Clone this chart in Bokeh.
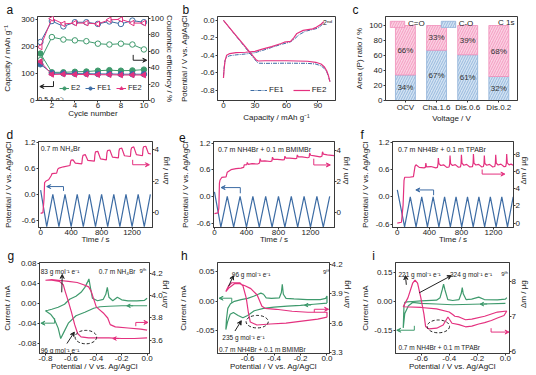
import math
from bokeh.plotting import figure
from bokeh.models import (Range1d, LinearAxis, FixedTicker, PrintfTickFormatter, Label,
                          Arrow, VeeHead, Legend, LegendItem)
from bokeh.layouts import column, row
from bokeh.core.properties import value
from bokeh.embed import file_html
from bokeh.resources import INLINE

FONT = "Liberation Sans"
PINK = "#e4317f"
BLUE = "#3d6ca4"
GREEN = "#3f9a6d"
INK = "#222222"
AXC = "#3a3a3a"

# ---------------- data: panel a ----------------
a_cycle = [1, 2, 3, 4, 5, 6, 7, 8, 9, 10]
a_cap_e2 = [175, 105, 105, 107, 108, 111, 113, 111, 112, 115]
a_cap_fe1 = [135, 102, 101, 100, 100, 99, 99, 98, 98, 98]
a_cap_fe2 = [145, 97, 98, 97, 97, 96, 96, 95, 95, 95]
a_ce_e2 = [49, 77, 74, 73, 72, 69, 68, 69, 68, 62]
a_ce_fe1 = [71, 96.5, 90, 95, 95, 93, 96, 93, 97, 95]
a_ce_fe2 = [65, 99.5, 93, 94, 94, 93, 98, 98.5, 94, 94]

# ---------------- data: panel b ----------------
b_fe1_chg_cap = [0, 0.5, 1.5, 3, 6, 12, 21, 30, 37, 46, 55, 60, 64, 68, 72, 78, 85, 90, 94, 96]
b_fe1_chg_v = [-0.64, -0.55, -0.46, -0.42, -0.405, -0.395, -0.385, -0.37, -0.345, -0.31,
               -0.275, -0.26, -0.245, -0.21, -0.165, -0.125, -0.105, -0.09, -0.05, -0.02]
b_fe1_dis_cap = [0, 10, 20, 30, 33, 40, 60, 80, 88, 93, 96, 98.5, 100, 101.5]
b_fe1_dis_v = [0.0, -0.15, -0.30, -0.45, -0.49, -0.492, -0.49, -0.492, -0.50, -0.52, -0.55, -0.59, -0.64, -0.70]
b_fe2_chg_cap = [0, 0.6, 1.5, 3, 6, 12, 21, 30, 37, 46, 55, 58, 64, 67, 70, 76, 85, 88.5, 93, 95.5]
b_fe2_chg_v = [-0.66, -0.56, -0.46, -0.40, -0.38, -0.37, -0.365, -0.355, -0.33, -0.30,
               -0.265, -0.25, -0.24, -0.20, -0.15, -0.115, -0.098, -0.08, -0.045, -0.015]
b_fe2_dis_cap = [0, 10, 20, 31, 33, 40, 60, 80, 88, 93, 96, 98.5, 100, 101.5]
b_fe2_dis_v = [0.0, -0.145, -0.29, -0.45, -0.465, -0.462, -0.462, -0.468, -0.48, -0.50, -0.53, -0.58, -0.63, -0.70]

# ---------------- data: panel c ----------------
c_x = [1, 2, 3, 4]
c_cats = ["OCV", "Cha.1.6", "Dis.0.6", "Dis.0.2"]
c_co = [34, 67, 61, 32]     # C-O
c_cdo = [66, 33, 39, 68]    # C=O

# ---------------- data: panels d, e, f ----------------
d_tri_t = [0, 80, 160, 240, 320, 400, 480, 560, 640, 720, 800, 880, 960, 1040, 1120, 1200, 1280, 1360, 1440]
d_tri_v = [0.10, -0.74, 0.0, -0.74, 0.0, -0.74, 0.0, -0.74, 0.0, -0.74, 0.0, -0.74, 0.0, -0.74, 0.0, -0.74, 0.0, -0.74, 0.0]
d_m_t = [0, 30, 45, 52, 70, 105, 140, 150, 210, 225, 240, 300, 385,
         392, 400, 425, 455, 540,
         548, 556, 585, 620, 705,
         712, 720, 750, 786, 862,
         870, 878, 908, 943, 1020,
         1028, 1036, 1065, 1100, 1178,
         1186, 1194, 1222, 1257, 1336,
         1344, 1352, 1380, 1414, 1448]
d_m = [-0.05, 0.0, 0.9, 1.9, 2.0, 2.08, 2.35, 2.47, 2.5, 2.75, 2.82, 2.9, 2.98,
       3.2, 3.32, 3.34, 3.13, 3.09,
       3.45, 3.62, 3.67, 3.30, 3.26,
       3.65, 3.84, 3.88, 3.40, 3.34,
       3.78, 3.92, 3.96, 3.51, 3.46,
       3.90, 4.04, 4.08, 3.60, 3.55,
       3.98, 4.10, 4.16, 3.67, 3.60,
       4.05, 4.17, 4.20, 3.75, 3.71]

e_tri_t = [0, 80, 160, 240, 320, 400, 480, 560, 640, 720, 800, 880, 960, 1040, 1120, 1200, 1280, 1360, 1440]
e_tri_v = [0.10, -0.69, 0.0, -0.69, 0.0, -0.69, 0.0, -0.69, 0.0, -0.69, 0.0, -0.69, 0.0, -0.69, 0.0, -0.69, 0.0, -0.69, 0.0]
e_m_t = [0, 45, 55, 62, 70, 91, 145, 160, 207, 269, 331, 365, 372,
         404, 410, 422, 470, 540,
         563, 570, 582, 630, 700,
         718, 725, 737, 785, 855,
         873, 880, 892, 940, 1010,
         1028, 1035, 1047, 1095, 1165,
         1183, 1190, 1202, 1250, 1320,
         1343, 1350, 1362, 1410, 1495]
e_m = [-0.05, 0.0, 0.3, 1.9, 2.1, 2.26, 2.3, 2.6, 2.76, 2.82, 2.86, 2.9, 3.06,
       3.08, 3.22, 3.10, 3.14, 3.12,
       3.18, 3.46, 3.30, 3.32, 3.28,
       3.32, 3.56, 3.42, 3.42, 3.38,
       3.40, 3.62, 3.50, 3.50, 3.46,
       3.48, 3.70, 3.58, 3.58, 3.52,
       3.55, 3.82, 3.68, 3.64, 3.58,
       3.62, 3.90, 3.75, 3.70, 3.66]

f_tri_t = [0, 91, 162, 234, 305, 376, 447, 519, 590, 662, 733, 804, 876, 947, 1018, 1090, 1161, 1233, 1304, 1375, 1446]
f_tri_v = [0.15, -0.66, 0.0, -0.66, 0.0, -0.66, 0.0, -0.66, 0.0, -0.66, 0.0, -0.66, 0.0, -0.66, 0.0, -0.66, 0.0, -0.66, 0.0, -0.66, 0.0]
f_m_t = [0, 52, 72, 84, 92, 153, 201, 221, 233, 274, 334, 350, 356, 364, 420, 480,
         500, 508, 512, 519, 542, 577, 617,
         646, 654, 658, 665, 688, 723, 763,
         788, 796, 800, 807, 830, 865, 905,
         938, 946, 950, 957, 980, 1015, 1055,
         1074, 1082, 1086, 1093, 1116, 1151, 1191,
         1216, 1224, 1228, 1235, 1258, 1293, 1333,
         1353, 1361, 1365, 1372, 1395, 1420, 1445]
f_m = [0.0, 0.1, 2.1, 5.0, 5.35, 5.35, 5.43, 6.62, 6.8, 6.5, 6.44, 6.5, 7.0, 6.55, 6.6, 6.45,
       6.5, 6.9, 7.6, 6.95, 6.72, 6.8, 6.5,
       6.55, 6.9, 7.89, 6.95, 6.72, 6.82, 6.52,
       6.55, 6.95, 7.96, 7.0, 6.75, 6.85, 6.55,
       6.6, 7.0, 8.07, 7.0, 6.78, 6.85, 6.55,
       6.6, 6.95, 7.89, 6.95, 6.75, 6.85, 6.55,
       6.6, 7.0, 7.96, 7.0, 6.78, 6.88, 6.58,
       6.62, 7.0, 8.07, 7.02, 6.8, 6.88, 6.75]

# ---------------- data: panels g, h, i ----------------
g_cv_v = [0.0, -0.1, -0.2, -0.3, -0.37, -0.42, -0.49, -0.56, -0.62, -0.655, -0.68, -0.70, -0.73, -0.76, -0.80,
          -0.78, -0.75, -0.70, -0.65, -0.61, -0.56, -0.52, -0.49, -0.47, -0.458, -0.445, -0.43, -0.39, -0.345,
          -0.325, -0.313, -0.30, -0.27, -0.234, -0.20, -0.15, -0.08, -0.02, 0.0]
g_cv_i = [-0.005, -0.005, -0.005, -0.006, -0.007, -0.010, -0.018, -0.025, -0.040, -0.058, -0.071, -0.050, -0.032,
          -0.022, -0.015, -0.014, -0.012, -0.008, -0.002, 0.008, 0.014, 0.022, 0.032, 0.042, 0.049, 0.030, 0.010,
          0.005, 0.008, 0.018, 0.032, 0.012, 0.005, 0.012, 0.007, 0.005, 0.005, 0.006, 0.010]
g_m_v = [0.0, -0.1, -0.2, -0.3, -0.4, -0.46, -0.52, -0.547, -0.57, -0.595, -0.62, -0.645, -0.66, -0.69, -0.75,
         -0.80, -0.75, -0.70, -0.62, -0.55, -0.50, -0.46, -0.44, -0.42, -0.40, -0.38, -0.34, -0.31, -0.29, -0.25,
         -0.15, -0.05, 0.0]
g_m = [3.62, 3.615, 3.615, 3.62, 3.62, 3.62, 3.63, 3.66, 3.74, 3.85, 3.95, 4.04, 4.10, 4.13, 4.14, 4.14, 4.145,
       4.14, 4.13, 4.12, 4.10, 4.08, 4.04, 3.97, 3.90, 3.88, 3.84, 3.80, 3.74, 3.72, 3.71, 3.70, 3.69]

h_cv_v = [0.0, -0.1, -0.2, -0.3, -0.4, -0.48, -0.55, -0.60, -0.636, -0.672, -0.708, -0.732, -0.752, -0.765,
          -0.76, -0.75, -0.73, -0.70, -0.65, -0.60, -0.55, -0.52, -0.50, -0.48, -0.46, -0.42, -0.36, -0.345,
          -0.338, -0.33, -0.31, -0.25, -0.15, -0.05, -0.01, 0.0, 0.0]
h_cv_i = [-0.003, -0.005, -0.007, -0.008, -0.010, -0.012, -0.016, -0.024, -0.028, -0.024, -0.019, -0.022,
          -0.035, -0.048, -0.030, -0.012, -0.004, 0.000, 0.003, 0.005, 0.009, 0.012, 0.014, 0.012, 0.006, 0.005,
          0.006, 0.015, 0.029, 0.012, 0.005, 0.004, 0.003, 0.003, 0.005, 0.009, -0.003]
h_m_v = [0.0, -0.07, -0.19, -0.31, -0.43, -0.53, -0.58, -0.595, -0.61, -0.636, -0.66, -0.72, -0.744, -0.765,
         -0.74, -0.70, -0.66, -0.62, -0.576, -0.528, -0.492, -0.468, -0.384, -0.264, -0.144, -0.05, 0.0, 0.0]
h_m = [3.66, 3.64, 3.62, 3.60, 3.59, 3.58, 3.61, 3.71, 3.85, 3.98, 4.01, 4.01, 3.98, 3.92, 3.96, 4.00, 4.00,
       3.98, 3.95, 3.885, 3.77, 3.75, 3.74, 3.72, 3.71, 3.71, 3.71, 3.66]

i_cv_v = [0.0, -0.16, -0.375, -0.49, -0.60, -0.66, -0.69, -0.716, -0.727, -0.722, -0.716, -0.70, -0.66, -0.60,
          -0.49, -0.465, -0.45, -0.44, -0.43, -0.41, -0.375, -0.33, -0.315, -0.307, -0.30, -0.28, -0.24, -0.19,
          -0.15, -0.057, 0.0, 0.01]
i_cv_i = [-0.010, -0.013, -0.017, -0.013, -0.010, -0.005, -0.022, -0.063, -0.138, -0.030, -0.005, -0.002, 0.000,
          0.003, 0.007, 0.020, 0.060, 0.090, 0.060, 0.010, 0.005, 0.010, 0.040, 0.073, 0.040, 0.010, 0.012, 0.023,
          0.010, 0.008, 0.012, 0.020]
i_m_v = [0.01, -0.057, -0.148, -0.239, -0.284, -0.33, -0.36, -0.375, -0.40, -0.49, -0.60, -0.727, -0.693, -0.66,
         -0.643, -0.625, -0.602, -0.58, -0.568, -0.545, -0.489, -0.443, -0.409, -0.38, -0.33, -0.284, -0.239, -0.19,
         -0.148, -0.10, -0.057, -0.01, 0.01]
i_m = [7.15, 7.12, 7.00, 6.92, 6.90, 6.98, 7.00, 7.05, 7.12, 7.21, 7.25, 7.27, 7.53, 7.94, 8.03, 7.94, 7.53, 7.07,
       6.71, 6.64, 6.66, 6.75, 6.98, 6.80, 6.76, 6.70, 6.72, 6.78, 6.82, 6.88, 6.95, 7.02, 7.15]

SUP_M1 = "\u207b\u00b9"
T_POT = "Potential / V vs. Ag/AgCl"
T_DM = "\u0394m / \u00b5g"


# ---------------- helpers ----------------
def style_axis(ax, ticks, label, s, fmt=None, overrides=None, lstand=1):
    ax.axis_line_color = AXC
    ax.major_tick_line_color = AXC
    ax.minor_tick_line_color = None
    ax.major_tick_in = 0
    ax.major_tick_out = 2
    ax.major_label_text_font = FONT
    ax.major_label_text_font_size = "8px"
    ax.major_label_text_color = INK
    ax.major_label_standoff = lstand
    ax.axis_label = label
    ax.axis_label_text_font = FONT
    ax.axis_label_text_font_size = "8px"
    ax.axis_label_text_font_style = "normal"
    ax.axis_label_text_color = INK
    ax.axis_label_standoff = s
    ax.ticker = FixedTicker(ticks=ticks)
    if fmt:
        ax.formatter = PrintfTickFormatter(format=fmt)
    if overrides:
        ax.major_label_overrides = overrides


def flip_right(ax):
    try:
        ax.axis_label_orientation = math.pi / 2
    except Exception:
        pass


def make_fig(w, h, bl, br, bt, bb, xr, yr, letter, loff, ry=None):
    p = figure(width=w, height=h, x_range=Range1d(*xr), y_range=Range1d(*yr),
               output_backend="svg", toolbar_location=None,
               min_border_left=bl, min_border_right=br, min_border_top=bt, min_border_bottom=bb)
    p.grid.visible = False
    p.outline_line_color = AXC
    p.outline_line_width = 1
    p.title.text = letter
    p.title.text_font = FONT
    p.title.text_font_size = "12px"
    p.title.text_font_style = "normal"
    p.title.text_color = "#111111"
    p.title.align = "left"
    p.title.offset = loff
    p.title.standoff = 0
    rax = None
    if ry is not None:
        p.extra_y_ranges = {"r": Range1d(*ry)}
        rax = LinearAxis(y_range_name="r")
        p.add_layout(rax, "right")
    return p, p.xaxis[0], p.yaxis[0], rax


def txt(p, x, y, s, size="6.5px", yr="default", align="left", baseline="alphabetic"):
    p.add_layout(Label(x=x, y=y, text=s, text_font=FONT, text_font_size=size, text_color=INK,
                       text_align=align, text_baseline=baseline, y_range_name=yr))


def arr(p, x0, y0, x1, y1, color, yr="default", head=True, size=4):
    end = VeeHead(size=size, line_color=color, fill_color=color, line_width=1) if head else None
    p.add_layout(Arrow(end=end, x_start=x0, y_start=y0, x_end=x1, y_end=y1,
                       line_color=color, line_width=1, y_range_name=yr))


def ellipse(p, cx, cy, w, hh):
    p.ellipse(x=[cx], y=[cy], width=[w], height=[hh], fill_color=None, line_color=INK,
              line_dash="3 2", line_width=1)


def leg(p, items, loc, gw=10, spacing=3, size="7.5px", lw=8):
    lg = Legend(items=items, orientation="horizontal", location=loc,
                background_fill_alpha=0, border_line_alpha=0, padding=0, margin=3,
                spacing=spacing, label_standoff=2, glyph_width=gw, glyph_height=8, label_width=lw,
                label_text_font=FONT, label_text_font_size=size, label_text_color=INK, label_height=8)
    p.add_layout(lg)


LW = 1.2

# ================= panel a =================
XA, YA, RA = (0.75, 10.4), (0, 313), (0, 102)
pa, ax_x, ax_y, ax_r = make_fig(176, 125, 33, 23, 13, 22, XA, YA, "a", -31, RA)
style_axis(ax_x, [2, 4, 6, 8, 10], "Cycle number", -2, lstand=0)
style_axis(ax_y, [0, 100, 200, 300], "Capacity / mAh g" + SUP_M1, 6)
style_axis(ax_r, [0, 20, 40, 60, 80, 100], "Coulombic efficiency / %", -2, lstand=0)
for ce, col, mk, ang in [(a_ce_e2, GREEN, "circle", 0), (a_ce_fe1, BLUE, "circle", 0),
                         (a_ce_fe2, PINK, "triangle", math.pi / 2)]:
    pa.line(a_cycle, ce, color=col, line_width=1, y_range_name="r")
    pa.scatter(a_cycle, ce, marker=mk, angle=ang, size=5.5, line_color=col, fill_color="white",
               line_width=1, y_range_name="r")
items = []
for cap, col, mk, ang, lab in [(a_cap_e2, GREEN, "circle", 0, "E2"), (a_cap_fe1, BLUE, "circle", 0, "FE1"),
                               (a_cap_fe2, PINK, "triangle", math.pi / 2, "FE2")]:
    rl = pa.line(a_cycle, cap, color=col, line_width=1)
    rm = pa.scatter(a_cycle, cap, marker=mk, angle=ang, size=5.5, line_color=col, fill_color=col)
    items.append(LegendItem(label=lab, renderers=[rl, rm]))
leg(pa, items, (22, 8), spacing=5)
txt(pa, 0.82, 5, "0.5 A g" + SUP_M1, size="7px")
arr(pa, 2.14, 52, 0.95, 52, INK)
arr(pa, 2.14, 72, 2.14, 52, INK, head=False)
arr(pa, 9.07, 150, 10.25, 150, INK)
arr(pa, 9.07, 170, 9.07, 150, INK, head=False)

# ================= panel b =================
XB, YB = (-5.7, 106.8), (-0.917, 0.044)
pb, bx, by, _ = make_fig(175, 125, 36, 16, 12, 25, XB, YB, "b", -35)
style_axis(bx, [0, 30, 60, 90], "Capacity / mAh g" + SUP_M1, 2, lstand=0)
style_axis(by, [0.0, -0.2, -0.4, -0.6, -0.8], T_POT, 9, fmt="%.1f")
r_fe1a = pb.line(b_fe1_chg_cap, b_fe1_chg_v, color=BLUE, line_width=1, line_dash="4 1 1 1")
pb.line(b_fe1_dis_cap, b_fe1_dis_v, color=BLUE, line_width=1, line_dash="4 1 1 1")
r_fe2a = pb.line(b_fe2_chg_cap, b_fe2_chg_v, color=PINK, line_width=LW)
pb.line(b_fe2_dis_cap, b_fe2_dis_v, color=PINK, line_width=LW)
leg(pb, [LegendItem(label="FE1", renderers=[r_fe1a]), LegendItem(label="FE2", renderers=[r_fe2a])],
    (33, 6), gw=17, spacing=9, size="8px", lw=14)
txt(pb, 95, -0.02, "2\u207f\u1d48", size="7px")

# ================= panel c =================
XC, YC = (0.36, 4.6), (0, 112)
pc, cx, cy, _ = make_fig(185, 125, 34, 19, 12, 23, XC, YC, "c", -33)
style_axis(cx, c_x, "Voltage / V", -1, overrides={k: v for k, v in zip(c_x, c_cats)}, lstand=0)
style_axis(cy, [0, 20, 40, 60, 80, 100], "Area (P) ratio / %", 2)
c_top = [a + b for a, b in zip(c_co, c_cdo)]
r_co = pc.vbar(x=c_x, bottom=0, top=c_co, width=0.64, fill_color="#d3e3f3", line_color="#8fb1d8",
               line_width=0.8, hatch_pattern="/", hatch_color="#7ea6d4", hatch_scale=5, hatch_weight=0.7)
r_cdo = pc.vbar(x=c_x, bottom=c_co, top=c_top, width=0.64, fill_color="#fbd0e2", line_color="#f08fba",
                line_width=0.8, hatch_pattern="/", hatch_color="#ef86b5", hatch_scale=5, hatch_weight=0.7)
pc.text(x=c_x, y=[v / 2 for v in c_co], text=[f"{v}%" for v in c_co], text_align="center",
        text_baseline="middle", text_font=value(FONT), text_font_size="8px", text_color="#333333")
pc.text(x=c_x, y=[a + b / 2 for a, b in zip(c_co, c_cdo)], text=[f"{v}%" for v in c_cdo],
        text_align="center", text_baseline="middle", text_font=value(FONT), text_font_size="8px",
        text_color="#333333")
leg(pc, [LegendItem(label="C=O", renderers=[r_cdo]), LegendItem(label="C-O", renderers=[r_co])],
    "top_left", gw=18, spacing=14, size="8px", lw=16)
txt(pc, 4.5, 109.5, "C 1s", size="8px", align="right", baseline="top")

# ================= panel d =================
XD, YD, RD = (-28, 1468), (-0.76, 1.215), (-0.94, 4.5)
pd_, dx, dy, dr = make_fig(177, 121, 33, 24, 14, 16, XD, YD, "d", -32, RD)
style_axis(dx, [0, 400, 800, 1200], "Time / s", -3, lstand=0)
style_axis(dy, [-0.6, 0.0, 0.6, 1.2], T_POT, 6, fmt="%.1f")
style_axis(dr, [0, 2, 4], T_DM, 4, lstand=0)
flip_right(dr)
pd_.line(d_tri_t, d_tri_v, color=BLUE, line_width=LW)
pd_.line(d_m_t, d_m, color=PINK, line_width=LW, y_range_name="r")
txt(pd_, 0, 1.055, "0.7 m NH\u2084Br", size="7px")
arr(pd_, 300, 0.18, 80, 0.18, BLUE)
arr(pd_, 300, 0.08, 300, 0.18, BLUE, head=False)
arr(pd_, 1208, 3.03, 1427, 3.03, PINK, yr="r")
arr(pd_, 1208, 3.34, 1208, 3.03, PINK, yr="r", head=False)

# ================= panel e =================
XE, YE, RE = (-12, 1500), (-0.70, 1.235), (-0.94, 4.56)
pe, ex, ey, er = make_fig(180, 121, 35, 23, 13, 16, XE, YE, "e", -34.6, RE)
style_axis(ex, [0, 400, 800, 1200], "Time / s", -3, lstand=0)
style_axis(ey, [-0.6, 0.0, 0.6, 1.2], T_POT, 4, fmt="%.1f")
style_axis(er, [0, 2, 4], T_DM, 2, lstand=0)
flip_right(er)
pe.line(e_tri_t, e_tri_v, color=BLUE, line_width=LW)
pe.line(e_m_t, e_m, color=PINK, line_width=LW, y_range_name="r")
txt(pe, 43, 1.05, "0.7 m NH4Br + 0.1 m BMIMBr", size="7px")
arr(pe, 323, 0.198, 83, 0.198, BLUE)
arr(pe, 323, 0.07, 323, 0.198, BLUE, head=False)
arr(pe, 1241, 3.06, 1448, 3.06, PINK, yr="r")
arr(pe, 1241, 3.46, 1241, 3.06, PINK, yr="r", head=False)

# ================= panel f =================
XF, YF, RF = (-60, 1450), (-0.675, 1.214), (-0.51, 9.52)
pf, fx, fy, fr = make_fig(179, 121, 32, 23, 13, 15, XF, YF, "f", -32, RF)
style_axis(fx, [0, 400, 800, 1200], "Time / s", -3, lstand=0)
style_axis(fy, [-0.6, 0.0, 0.6, 1.2], T_POT, 3, fmt="%.1f")
style_axis(fr, [0, 2, 4, 6, 8], T_DM, 1, lstand=0)
flip_right(fr)
pf.line(f_tri_t, f_tri_v, color=BLUE, line_width=LW)
pf.line(f_m_t, f_m, color=PINK, line_width=LW, y_range_name="r")
txt(pf, 8, 1.03, "0.7 m NH4Br + 0.1 m TPABr", size="7px")
arr(pf, 453, 0.15, 231, 0.15, BLUE)
arr(pf, 453, 0.035, 453, 0.15, BLUE, head=False)
arr(pf, 1059, 5.72, 1342, 5.72, PINK, yr="r")
arr(pf, 1059, 6.26, 1059, 5.72, PINK, yr="r", head=False)

# ================= panel g =================
XG, YG, RG = (-0.847, 0.019), (-0.101, 0.082), (3.48, 4.30)
pg, gx, gy, gr = make_fig(176, 129, 33, 23, 14, 22, XG, YG, "g", -32, RG)
style_axis(gx, [-0.8, -0.6, -0.4, -0.2, 0.0], T_POT, -2, fmt="%.1f", lstand=0)
style_axis(gy, [-0.08, -0.04, 0.0, 0.04, 0.08], "Current / mA", 3, fmt="%.2f")
style_axis(gr, [3.6, 3.8, 4.0, 4.2], T_DM, -1, fmt="%.1f", lstand=0)
flip_right(gr)
pg.line(g_cv_v, g_cv_i, color=GREEN, line_width=LW)
pg.line(g_m_v, g_m, color=PINK, line_width=LW, y_range_name="r")
txt(pg, -0.838, 0.064, "83 g mol" + SUP_M1 + " e" + SUP_M1)
txt(pg, -0.838, -0.094, "96 g mol" + SUP_M1 + " e" + SUP_M1)
txt(pg, -0.38, 0.064, "0.7 m NH\u2084Br")
txt(pg, -0.06, 0.064, "9\u1d57\u02b0", size="6px")
arr(pg, -0.672, 0.022, -0.668, 0.058, INK)
arr(pg, -0.631, -0.081, -0.573, -0.058, INK)
ellipse(pg, -0.482, -0.068, 0.17, 0.027)
arr(pg, -0.728, -0.04, -0.836, -0.04, GREEN)
arr(pg, -0.728, -0.03, -0.728, -0.04, GREEN, head=False)
arr(pg, -0.089, 3.76, 0.007, 3.76, PINK, yr="r")
arr(pg, -0.089, 3.726, -0.089, 3.76, PINK, yr="r", head=False)
arr(pg, -0.11, -0.005, -0.16, -0.005, GREEN, size=3.5)
arr(pg, -0.22, 3.615, -0.27, 3.615, PINK, yr="r", size=3.5)

# ================= panel h =================
XH, YH, RH = (-0.828, 0.019), (-0.0887, 0.066), (3.29, 4.216)
ph, hx, hy, hr = make_fig(182, 129, 37, 27, 11, 22, XH, YH, "h", -36.6, RH)
style_axis(hx, [-0.6, -0.4, -0.2, 0.0], T_POT, -2, fmt="%.1f", lstand=0)
style_axis(hy, [-0.05, 0.0, 0.05], "Current / mA", 5, fmt="%.2f")
style_axis(hr, [3.3, 3.6, 3.9, 4.2], T_DM, 1, fmt="%.1f", lstand=0)
flip_right(hr)
ph.line(h_cv_v, h_cv_i, color=GREEN, line_width=LW)
ph.line(h_m_v, h_m, color=PINK, line_width=LW, y_range_name="r")
txt(ph, -0.72, 0.045, "96 g mol" + SUP_M1 + " e" + SUP_M1)
txt(ph, -0.792, -0.062, "235 g mol" + SUP_M1 + " e" + SUP_M1)
txt(ph, -0.03, 0.05, "9\u1d57\u02b0", size="6px")
txt(ph, -0.816, -0.082, "0.7 m NH4Br + 0.1 m BMIMBr")
arr(ph, -0.744, 0.0255, -0.708, 0.0436, INK)
arr(ph, -0.696, -0.0505, -0.648, -0.033, INK)
ellipse(ph, -0.528, -0.0346, 0.168, 0.0213)
arr(ph, -0.72, 0.0053, -0.816, 0.0053, GREEN)
arr(ph, -0.72, -0.0027, -0.72, 0.0053, GREEN, head=False)
arr(ph, -0.096, 3.74, 0.012, 3.74, PINK, yr="r")
arr(ph, -0.096, 3.71, -0.096, 3.74, PINK, yr="r", head=False)
arr(ph, -0.12, -0.0062, -0.17, -0.0066, GREEN, size=3.5)

# ================= panel i =================
XI, YI, RI = (-0.782, 0.029), (-0.2715, 0.2035), (5.94, 8.53)
pi, ix, iy, ir = make_fig(178, 129, 32, 27, 12, 22, XI, YI, "i", -23.3, RI)
style_axis(ix, [-0.6, -0.4, -0.2, 0.0], T_POT, -2, fmt="%.1f", lstand=0)
style_axis(iy, [-0.15, 0.0, 0.15], "Current / mA", 1, fmt="%.2f")
style_axis(ir, [6, 7, 8], T_DM, 5, lstand=0)
flip_right(ir)
pi.line(i_cv_v, i_cv_i, color=GREEN, line_width=LW)
pi.line(i_m_v, i_m, color=PINK, line_width=LW, y_range_name="r")
txt(pi, -0.761, 0.142, "221 g mol" + SUP_M1 + " e" + SUP_M1)
txt(pi, -0.395, 0.142, "324 g mol" + SUP_M1 + " e" + SUP_M1)
txt(pi, -0.03, 0.142, "9\u1d57\u02b0", size="6px")
txt(pi, -0.761, -0.238, "0.7 m NH4Br + 0.1 m TPABr")
arr(pi, -0.705, 0.087, -0.711, 0.135, INK)
arr(pi, -0.614, 0.045, -0.385, 0.135, INK)
ellipse(pi, -0.477, -0.13, 0.159, 0.067)
arr(pi, -0.648, -0.15, -0.773, -0.15, GREEN)
arr(pi, -0.648, -0.127, -0.648, -0.15, GREEN, head=False)
arr(pi, -0.102, 6.55, 0.025, 6.55, PINK, yr="r")
arr(pi, -0.102, 6.66, -0.102, 6.55, PINK, yr="r", head=False)
arr(pi, -0.13, -0.013, -0.18, -0.014, GREEN, size=3.5)

layout = column(row(pa, pb, pc), row(pd_, pe, pf), row(pg, ph, pi))
open("out.html", "w").write(file_html(layout, INLINE))
